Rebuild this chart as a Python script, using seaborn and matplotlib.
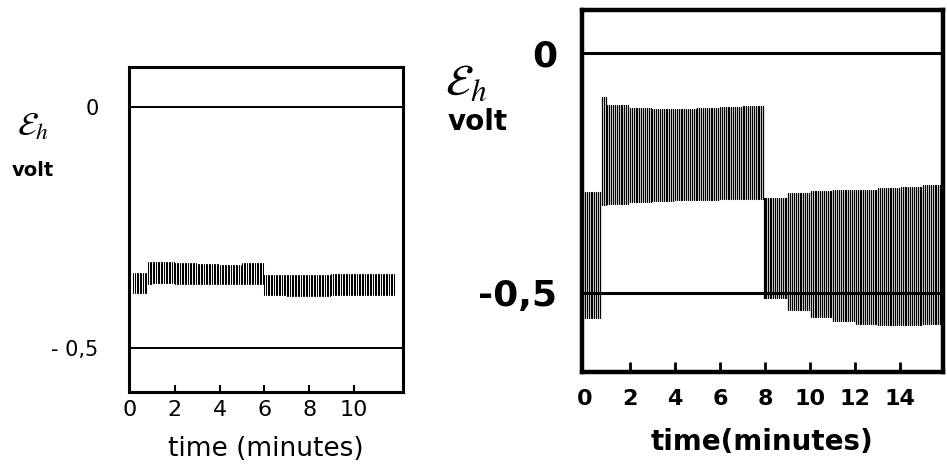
import numpy as np
import pandas as pd
import matplotlib
matplotlib.use("Agg")
import matplotlib.pyplot as plt
import seaborn as sns

sns.set_theme(style="ticks")
plt.rcParams['font.family'] = ['DejaVu Sans']
plt.rcParams.update({"text.color": "black", "axes.labelcolor": "black",
                     "xtick.color": "black", "ytick.color": "black",
                     "axes.edgecolor": "black"})

# ---------------- data ----------------
# Left panel: envelope knots (minutes) for the oscillating trace, volts
left_seg_start = [0.15, 0.8, 6.0]
left_seg_end = [0.78, 6.0, 11.85]
left_knot_t = [0.15, 0.8, 1.0, 2.0, 3.0, 4.0, 5.0, 6.0, 7.0, 8.0, 9.0, 10.0, 11.0]
left_top = [-0.344, -0.322, -0.321, -0.324, -0.326, -0.327, -0.324, -0.349, -0.349, -0.348, -0.347, -0.346, -0.346]
left_bottom = [-0.386, -0.366, -0.365, -0.366, -0.367, -0.368, -0.366, -0.390, -0.391, -0.391, -0.390, -0.390, -0.390]
left_rate = 14.0  # strokes per minute

# Right panel
right_seg_start = [0.0, 0.75, 7.95]
right_seg_end = [0.72, 8.05, 15.9]
right_knot_t = [0.0, 0.75, 1.0, 2.0, 3.0, 4.0, 5.0, 6.0, 7.0, 7.95, 9.0, 10.0, 11.0, 12.0, 13.0, 14.0, 15.0]
right_top = [-0.290, -0.092, -0.108, -0.115, -0.117, -0.116, -0.114, -0.112, -0.110, -0.302, -0.292, -0.287, -0.286, -0.285, -0.282, -0.279, -0.275]
right_bottom = [-0.552, -0.317, -0.314, -0.311, -0.309, -0.307, -0.306, -0.305, -0.305, -0.510, -0.535, -0.550, -0.558, -0.565, -0.566, -0.566, -0.565]
right_rate = 12.0

ref_levels = [0.0, -0.5]
left_xticks = [0, 2, 4, 6, 8, 10]
right_xticks = [0, 2, 4, 6, 8, 10, 12, 14]
left_ytick_labels = ["0", "- 0,5"]
right_ytick_labels = ["0", "-0,5"]


def strokes(seg_start, seg_end, knot_t, top, bottom, rate):
    rows = []
    sid = 0
    kt = np.asarray(knot_t)
    for s, e in zip(seg_start, seg_end):
        for t in np.arange(s, e, 1.0 / rate):
            k = max(np.searchsorted(kt, t + 1e-9, side="right") - 1, 0)
            rows.append((t, bottom[k], sid))
            rows.append((t, top[k], sid))
            sid += 1
    return pd.DataFrame(rows, columns=["time", "volt", "stroke"])


fig = plt.figure(figsize=(9.47, 4.68), dpi=100)
axL = fig.add_axes([0.1362, 0.1624, 0.2894, 0.6944])
axR = fig.add_axes([0.6146, 0.2051, 0.3810, 0.7735])

# ---------- left ----------
dfL = strokes(left_seg_start, left_seg_end, left_knot_t, left_top, left_bottom, left_rate)
sns.lineplot(data=dfL, x="time", y="volt", units="stroke", estimator=None,
             sort=False, color="black", lw=0.75, ax=axL)
for lv in ref_levels:
    axL.axhline(lv, color="black", lw=1.4)
axL.set_xlim(-0.05, 12.2)
axL.set_ylim(-0.591, 0.083)
axL.set_xticks(left_xticks)
axL.set_xticklabels([str(v) for v in left_xticks], fontsize=16)
axL.set_yticks(ref_levels)
axL.set_yticklabels(left_ytick_labels, fontsize=15)
axL.tick_params(axis="x", direction="in", length=5, width=1.5, pad=6, bottom=True, top=False)
axL.tick_params(axis="y", left=False, length=0, pad=22)
axL.xaxis.get_major_ticks()[0].tick1line.set_visible(False)
for sp in axL.spines.values():
    sp.set_visible(True)
    sp.set_linewidth(2.2)
    sp.set_color("black")
axL.set_xlabel("time (minutes)", fontsize=19, labelpad=11)
axL.set_ylabel("")
axL.text(-0.35, 0.82, r"$\mathcal{E}_{h}$", transform=axL.transAxes, fontsize=24,
         math_fontfamily="stix", ha="center", va="center")
axL.text(-0.35, 0.683, "volt", transform=axL.transAxes, fontsize=14,
         fontweight="bold", ha="center", va="center")

# ---------- right ----------
dfR = strokes(right_seg_start, right_seg_end, right_knot_t, right_top, right_bottom, right_rate)
sns.lineplot(data=dfR, x="time", y="volt", units="stroke", estimator=None,
             sort=False, color="black", lw=0.9, ax=axR)
for lv in ref_levels:
    axR.axhline(lv, color="black", lw=2.2)
axR.set_xlim(-0.13, 15.9)
axR.set_ylim(-0.665, 0.09)
axR.set_xticks(right_xticks)
axR.set_xticklabels([str(v) for v in right_xticks], fontsize=16, fontweight="bold")
axR.set_yticks(ref_levels)
axR.set_yticklabels(right_ytick_labels, fontsize=26, fontweight="bold")
axR.tick_params(axis="x", direction="in", length=7, width=2, pad=12, bottom=True, top=False)
axR.tick_params(axis="y", left=False, length=0, pad=18)
axR.xaxis.get_major_ticks()[0].tick1line.set_visible(False)
for sp in axR.spines.values():
    sp.set_visible(True)
    sp.set_linewidth(3.2)
    sp.set_color("black")
axR.set_xlabel("time(minutes)", fontsize=20, fontweight="bold", labelpad=14)
axR.set_ylabel("")
axR.text(-0.32, 0.80, r"$\mathcal{E}_{h}$", transform=axR.transAxes, fontsize=32,
         math_fontfamily="stix", ha="center", va="center")
axR.text(-0.29, 0.69, "volt", transform=axR.transAxes, fontsize=20,
         fontweight="bold", ha="center", va="center")

fig.savefig("out.png", dpi=100)
